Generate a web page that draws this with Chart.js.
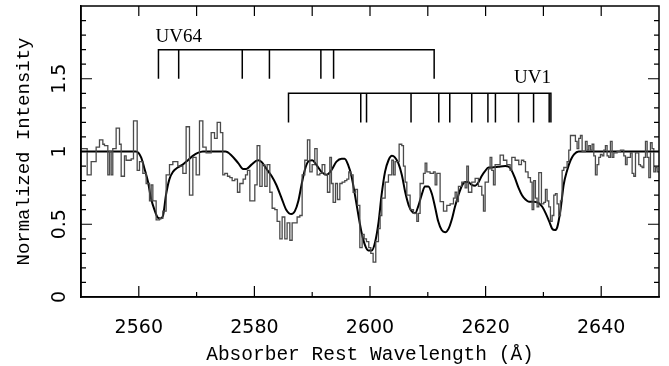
<!DOCTYPE html>
<html>
<head>
<meta charset="utf-8">
<script src="https://cdn.jsdelivr.net/npm/chart.js@4/dist/chart.umd.min.js"></script>
<style>
  html, body { margin: 0; padding: 0; background: #fff; }
  #wrap { width: 669px; height: 366px; }
</style>
</head>
<body>
<div id="wrap"><canvas id="c" width="669" height="366"></canvas></div>
<script>
// observed spectrum, left edge of each bin (Å) and normalized flux
const specWave = [
  2550.0, 2551.07, 2551.76, 2552.62, 2553.2, 2553.78, 2554.06, 2554.64, 2554.93, 2555.22,
  2555.5, 2556.08, 2556.66, 2556.95, 2557.52, 2557.81, 2558.68, 2559.08, 2559.72, 2560.12,
  2560.7, 2561.27, 2561.85, 2562.14, 2562.43, 2563.0, 2563.58, 2564.16, 2564.73, 2565.31,
  2565.89, 2566.75, 2567.62, 2568.19, 2568.77, 2569.35, 2569.92, 2570.5, 2571.08, 2571.65,
  2572.52, 2573.1, 2573.56, 2574.13, 2574.53, 2574.88, 2575.34, 2575.75, 2576.15, 2576.61,
  2577.07, 2577.48, 2578.05, 2578.46, 2578.8, 2579.21, 2580.07, 2580.47, 2580.94, 2581.34,
  2581.8, 2582.2, 2582.67, 2583.07, 2583.53, 2583.93, 2584.4, 2584.8, 2585.26, 2585.66,
  2586.13, 2586.53, 2586.99, 2587.39, 2587.86, 2588.26, 2588.72, 2589.18, 2589.59, 2589.99,
  2590.45, 2590.85, 2591.32, 2591.72, 2592.18, 2592.64, 2593.05, 2593.33, 2593.62, 2594.03,
  2594.37, 2594.78, 2595.18, 2595.64, 2595.99, 2596.33, 2596.68, 2597.08, 2597.49, 2597.83,
  2598.24, 2598.64, 2598.99, 2599.39, 2599.79, 2600.14, 2600.54, 2601.0, 2601.46, 2601.75,
  2602.04, 2602.62, 2603.19, 2603.77, 2604.06, 2604.35, 2605.04, 2605.5, 2605.79, 2606.08,
  2606.37, 2606.94, 2607.52, 2608.1, 2608.38, 2608.67, 2609.25, 2609.54, 2609.83, 2610.4,
  2610.98, 2611.27, 2611.56, 2612.13, 2612.71, 2613.29, 2613.86, 2614.44, 2614.73, 2615.02,
  2615.3, 2615.88, 2616.46, 2616.75, 2617.03, 2617.61, 2618.19, 2618.76, 2619.34, 2619.63,
  2619.92, 2620.49, 2620.78, 2621.07, 2621.36, 2621.65, 2622.22, 2622.51, 2623.09, 2623.67,
  2624.24, 2624.53, 2625.11, 2625.74, 2626.2, 2626.6, 2626.9, 2627.35, 2627.76, 2628.05,
  2628.33, 2628.62, 2628.91, 2629.2, 2629.66, 2630.07, 2630.35, 2630.64, 2630.93, 2631.22,
  2631.51, 2631.8, 2632.08, 2632.37, 2632.66, 2632.95, 2633.24, 2633.53, 2633.81, 2634.1,
  2634.39, 2634.68, 2635.25, 2635.54, 2635.83, 2636.12, 2636.41, 2636.7, 2637.27, 2637.56,
  2637.85, 2638.14, 2638.43, 2638.72, 2639.0, 2639.29, 2639.58, 2639.87, 2640.16, 2640.45,
  2640.73, 2641.02, 2641.31, 2641.6, 2641.89, 2642.18, 2642.75, 2643.33, 2643.91, 2644.2,
  2644.48, 2645.06, 2645.35, 2645.64, 2645.93, 2646.5, 2646.79, 2647.08, 2647.37, 2647.66,
  2647.95, 2648.24, 2648.52, 2648.81, 2649.1, 2649.39, 2649.68, 2650.0
];
const specFlux = [
  1.02, 0.84, 0.93, 1.03, 1.08, 1.05, 1.04, 0.84, 1.0, 0.84,
  1.02, 1.16, 1.05, 0.83, 0.97, 0.94, 0.95, 1.21, 0.87, 0.93,
  0.85, 0.78, 0.66, 0.77, 0.66, 0.53, 0.54, 0.59, 0.84, 0.91,
  0.93, 0.9, 0.85, 1.17, 0.7, 0.96, 0.84, 1.21, 1.03, 0.99,
  1.13, 1.09, 1.2, 1.13, 0.84, 0.85, 0.83, 0.82, 0.8, 0.81,
  0.72, 0.78, 0.81, 0.84, 0.87, 0.66, 0.77, 1.04, 0.76, 0.91,
  0.76, 0.91, 0.72, 0.61, 0.6, 0.52, 0.4, 0.55, 0.4, 0.51,
  0.39, 0.51, 0.51, 0.55, 0.56, 0.84, 0.94, 1.08, 0.86, 0.91,
  1.02, 0.84, 0.85, 0.91, 0.84, 0.72, 0.96, 0.78, 0.65, 0.78,
  0.67, 0.78, 0.79, 0.8, 0.81, 0.86, 0.84, 0.72, 0.74, 0.63,
  0.34, 0.43, 0.4, 0.38, 0.34, 0.3, 0.24, 0.38, 0.47, 0.56,
  0.68, 0.79, 0.84, 0.94, 0.84, 0.93, 1.05, 1.04, 0.9, 0.79,
  0.7, 0.6, 0.575, 0.52, 0.575, 0.78, 0.85, 0.92, 0.86, 0.85,
  0.86, 0.77, 0.85, 0.655, 0.59, 0.63, 0.64, 0.68, 0.72, 0.655,
  0.76, 0.79, 0.75, 0.9, 0.72, 0.79, 0.815, 0.76, 0.7, 0.59,
  0.79, 0.88, 0.96, 0.87, 0.77, 0.91, 0.91, 0.975, 0.94, 0.91,
  0.87, 0.96, 0.94, 0.91, 0.94, 0.93, 0.86, 0.82, 0.79, 0.6,
  0.8, 0.68, 0.62, 0.855, 0.64, 0.65, 0.74, 0.66, 0.62, 0.52,
  0.56, 0.7, 0.71, 0.64, 0.56, 0.66, 0.87, 0.89, 0.89, 0.93,
  1.01, 1.11, 1.11, 1.07, 1.02, 1.09, 1.11, 1.0, 1.07, 1.01,
  1.04, 1.01, 1.05, 0.97, 0.84, 0.91, 0.96, 0.98, 0.97, 1.01,
  1.04, 0.97, 0.96, 1.07, 0.96, 0.99, 1.0, 1.01, 0.97, 0.91,
  0.96, 0.99, 0.85, 0.83, 0.99, 0.91, 0.9, 0.89, 0.96, 1.07,
  0.96, 0.82, 1.06, 1.02, 0.86, 0.89, 0.86, 0.86
];

// fitted model profile
const modelWave = [
  2550, 2559.5, 2560.4, 2561.0, 2561.6, 2562.1, 2562.7, 2563.3, 2563.75, 2564.2,
  2564.7, 2565.3, 2565.9, 2566.75, 2567.6, 2568.5, 2569.35, 2570.2, 2571.1, 2575.0,
  2576.0, 2577.2, 2578.05, 2578.6, 2579.5, 2580.6, 2581.2, 2582.1, 2583.0, 2583.8,
  2584.7, 2585.5, 2586.4, 2587.0, 2587.6, 2588.15, 2588.7, 2589.3, 2590.0, 2590.7,
  2591.6, 2592.5, 2593.3, 2594.2, 2595.1, 2595.6, 2596.2, 2596.8, 2597.4, 2598.0,
  2598.5, 2599.1, 2599.7, 2600.3, 2600.9, 2601.5, 2602.0, 2602.6, 2603.2, 2603.8,
  2604.3, 2604.9, 2605.5, 2606.1, 2606.7, 2607.2, 2607.8, 2608.4, 2609.0, 2609.5,
  2610.1, 2610.7, 2611.3, 2611.8, 2612.4, 2613.0, 2613.6, 2614.2, 2614.7, 2615.3,
  2615.9, 2616.5, 2617.0, 2617.6, 2618.2, 2618.8, 2619.3, 2619.9, 2620.5, 2621.1,
  2622.2, 2623.4, 2624.0, 2624.5, 2625.1, 2625.7, 2626.3, 2626.9, 2627.5, 2628.3,
  2629.2, 2629.8, 2630.4, 2631.0, 2631.5, 2632.0, 2632.4, 2633.0, 2633.5, 2634.1,
  2634.7, 2635.3, 2636.1, 2650
];
const modelFlux = [
  1.0, 1.0, 0.96, 0.88, 0.79, 0.68, 0.6, 0.545, 0.54, 0.56,
  0.7, 0.81, 0.86, 0.89, 0.91, 0.94, 0.97, 0.99, 1.0, 1.0,
  0.975, 0.92, 0.88, 0.88, 0.91, 0.94, 0.93, 0.88, 0.83, 0.77,
  0.68, 0.6, 0.57, 0.59, 0.66, 0.77, 0.87, 0.93, 0.94, 0.91,
  0.86, 0.84, 0.87, 0.93, 0.95, 0.95, 0.91, 0.83, 0.7, 0.56,
  0.45, 0.36, 0.32, 0.32, 0.38, 0.52, 0.7, 0.86, 0.94, 0.97,
  0.96, 0.92, 0.84, 0.72, 0.63, 0.59, 0.575, 0.63, 0.71, 0.76,
  0.76, 0.71, 0.61, 0.52, 0.46, 0.445, 0.47, 0.54, 0.62, 0.7,
  0.765, 0.79, 0.79, 0.77, 0.765, 0.79, 0.83, 0.865, 0.89, 0.89,
  0.895, 0.9, 0.895, 0.87, 0.815, 0.75, 0.7, 0.67, 0.655, 0.655,
  0.645, 0.62, 0.575, 0.52, 0.47, 0.46, 0.48, 0.61, 0.77, 0.87,
  0.94, 0.98, 1.0, 1.0
];

// Fe II multiplet line lists (Å)
const uv64Lines = [2563.4, 2566.9, 2577.9, 2582.6, 2591.5, 2593.7, 2611.1];
const uv1Lines = [2585.9, 2598.4, 2599.4, 2607.1, 2611.9, 2613.8, 2617.6, 2620.4, 2621.7, 2625.7, 2628.3, 2631.0, 2631.3];

// axis ticks
const xMajorTicks = [2560, 2580, 2600, 2620, 2640];
const xMinorTicks = [2570, 2590, 2610, 2630];
const yMajorTicks = [0.5, 1, 1.5];
const yMinorTicks = [0.1, 0.2, 0.3, 0.4, 0.6, 0.7, 0.8, 0.9, 1.1, 1.2, 1.3, 1.4, 1.6, 1.7, 1.8, 1.9];
const yTickLabels = [
  { v: 0, t: "0" },
  { v: 0.5, t: "0.5" },
  { v: 1, t: "1" },
  { v: 1.5, t: "1.5" },
];

const bracket = (lines, top, bottom) => {
  const first = lines[0];
  const last = lines[lines.length - 1];
  const pts = [
    { x: first, y: bottom },
    { x: first, y: top },
    { x: last, y: top },
    { x: last, y: bottom },
  ];
  lines.slice(1, -1).forEach((w) => {
    pts.push({ x: w, y: null }, { x: w, y: top }, { x: w, y: bottom });
  });
  return pts;
};

const framePlugin = {
  id: "frame",
  afterDraw(chart) {
    const { ctx, chartArea: a, scales } = chart;
    const xs = scales.x;
    const ys = scales.y;
    ctx.save();
    ctx.strokeStyle = "#000";
    ctx.lineWidth = 1.5;
    ctx.strokeRect(a.left, a.top, a.right - a.left, a.bottom - a.top);
    ctx.lineWidth = 1.2;
    ctx.beginPath();
    xMajorTicks.forEach((v) => {
      const px = xs.getPixelForValue(v);
      ctx.moveTo(px, a.bottom);
      ctx.lineTo(px, a.bottom - 11);
    });
    xMinorTicks.forEach((v) => {
      const px = xs.getPixelForValue(v);
      ctx.moveTo(px, a.bottom);
      ctx.lineTo(px, a.bottom - 5);
    });
    xMajorTicks.concat(xMinorTicks).forEach((v) => {
      const px = xs.getPixelForValue(v);
      ctx.moveTo(px, a.top);
      ctx.lineTo(px, a.top + 10);
    });
    yMajorTicks.forEach((v) => {
      const py = ys.getPixelForValue(v);
      ctx.moveTo(a.left, py);
      ctx.lineTo(a.left + 11, py);
      ctx.moveTo(a.right, py);
      ctx.lineTo(a.right - 11, py);
    });
    yMinorTicks.forEach((v) => {
      const py = ys.getPixelForValue(v);
      ctx.moveTo(a.left, py);
      ctx.lineTo(a.left + 5, py);
      ctx.moveTo(a.right, py);
      ctx.lineTo(a.right - 5, py);
    });
    ctx.stroke();

    // rotated y tick labels
    ctx.fillStyle = "#000";
    ctx.font = "19px 'DejaVu Sans'";
    ctx.textAlign = "center";
    ctx.textBaseline = "middle";
    yTickLabels.forEach((l) => {
      ctx.save();
      ctx.translate(a.left - 21, ys.getPixelForValue(l.v));
      ctx.rotate(-Math.PI / 2);
      ctx.fillText(l.t, 0, 0);
      ctx.restore();
    });

    // multiplet names
    ctx.font = "19px 'Liberation Serif'";
    ctx.textBaseline = "alphabetic";
    ctx.textAlign = "left";
    ctx.fillText("UV64", xs.getPixelForValue(2562.9), ys.getPixelForValue(1.756));
    ctx.textAlign = "right";
    ctx.fillText("UV1", xs.getPixelForValue(uv1Lines[uv1Lines.length - 1]), ys.getPixelForValue(1.468));
    ctx.restore();
  },
};

const ctx = document.getElementById("c").getContext("2d");
const myChart = new Chart(ctx, {
  type: "line",
  data: {
    datasets: [
      {
        label: "spectrum",
        data: specWave.map((w, i) => ({ x: w, y: specFlux[i] })),
        stepped: "before",
        borderColor: "#4a4a4a",
        borderWidth: 1.3,
        pointRadius: 0,
        fill: false,
      },
      {
        label: "model",
        data: modelWave.map((w, i) => ({ x: w, y: modelFlux[i] })),
        borderColor: "#000",
        borderWidth: 2,
        pointRadius: 0,
        cubicInterpolationMode: "monotone",
        fill: false,
      },
      {
        label: "UV64",
        data: bracket(uv64Lines, 1.7, 1.5),
        borderColor: "#000",
        borderWidth: 1.5,
        pointRadius: 0,
        spanGaps: false,
        fill: false,
      },
      {
        label: "UV1",
        data: bracket(uv1Lines, 1.4, 1.2),
        borderColor: "#000",
        borderWidth: 1.5,
        pointRadius: 0,
        spanGaps: false,
        fill: false,
      },
    ],
  },
  options: {
    responsive: false,
    devicePixelRatio: 1,
    animation: false,
    events: [],
    layout: { padding: { top: 6, right: 10, left: 0, bottom: 0 } },
    plugins: {
      legend: { display: false },
      tooltip: { enabled: false },
    },
    scales: {
      x: {
        type: "linear",
        min: 2550,
        max: 2650,
        grid: { display: false, drawTicks: false },
        border: { display: true, color: "#000", width: 1.5 },
        ticks: {
          stepSize: 10,
          autoSkip: false,
          maxRotation: 0,
          padding: 20,
          color: "#000",
          font: { family: "'DejaVu Sans'", size: 19 },
          callback: (val) => (val % 20 === 0 ? String(val) : ""),
        },
        title: {
          display: true,
          text: "Absorber Rest Wavelength (Å)",
          color: "#000",
          font: { family: "'Liberation Mono'", size: 19.5, lineHeight: 1 },
          padding: { top: 0, bottom: 1 },
        },
        afterFit: (scale) => {
          scale.height = 69;
          // tick padding must not shrink the plot horizontally
          scale.paddingLeft = 0;
          scale.paddingRight = 0;
        },
      },
      y: {
        type: "linear",
        min: 0,
        max: 2,
        grid: { display: false, drawTicks: false },
        border: { display: true, color: "#000", width: 1.5 },
        ticks: { display: false },
        title: {
          display: true,
          text: "Normalized Intensity",
          color: "#000",
          font: { family: "'Liberation Mono'", size: 19, lineHeight: 1 },
          padding: { top: 14, bottom: 0 },
        },
        afterFit: (scale) => {
          scale.width = 81;
        },
      },
    },
  },
  plugins: [framePlugin],
});
</script>
</body>
</html>
